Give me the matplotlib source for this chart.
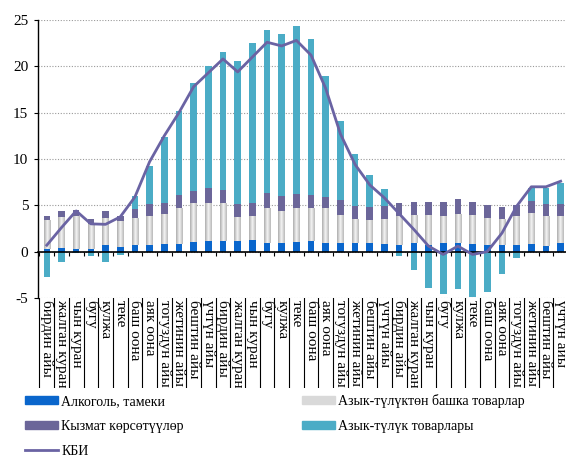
import matplotlib
matplotlib.use("Agg")
import matplotlib.pyplot as plt
import numpy as np
from matplotlib.colors import LinearSegmentedColormap
from matplotlib.patches import Patch
from matplotlib.lines import Line2D

plt.rcParams["font.family"] = ["Liberation Serif", "DejaVu Serif"]
plt.rcParams["axes.unicode_minus"] = False

# Kyrgyz month names, three years in a row
months = [
    "бирдин айы", "жалган куран", "чын куран", "бугу", "кулжа", "теке",
    "баш оона", "аяк оона", "тогуздун айы", "жетинин айы", "бештин айы", "үчтүн айы",
]
categories = months * 3

# contributions to the CPI, percentage points
alcohol = [0.32, 0.35, 0.32, 0.32, 0.68, 0.50, 0.68, 0.68, 0.82, 0.82, 1.00, 1.15,
           1.15, 1.20, 1.30, 0.97, 0.97, 1.00, 1.15, 0.97, 0.97, 0.97, 0.97, 0.80,
           0.75, 0.93, 0.72, 0.93, 0.93, 0.86, 0.72, 0.72, 0.72, 0.80, 0.65, 0.93]
nonfood = [3.08, 3.35, 3.58, 2.68, 2.92, 2.80, 2.92, 3.22, 3.23, 3.84, 4.20, 4.15,
           4.05, 2.50, 2.50, 3.69, 3.40, 3.66, 3.51, 3.69, 3.03, 2.53, 2.43, 2.70,
           3.05, 3.07, 3.28, 2.97, 3.17, 3.14, 2.88, 2.78, 3.08, 3.40, 3.25, 2.97]
services = [0.47, 0.67, 0.60, 0.50, 0.77, 0.55, 1.00, 1.20, 1.22, 1.44, 1.40, 1.60,
            1.50, 1.40, 1.47, 1.68, 1.63, 1.61, 1.44, 1.24, 1.60, 1.45, 1.44, 1.45,
            1.40, 1.35, 1.35, 1.45, 1.56, 1.35, 1.40, 1.30, 1.20, 1.30, 1.26, 1.26]
food = [-2.75, -1.15, -0.15, -0.50, -1.15, -0.40, 1.40, 4.15, 7.10, 9.10, 11.60, 13.10,
        14.90, 15.50, 17.20, 17.60, 17.50, 18.10, 16.90, 13.10, 8.55, 5.55, 3.40, 1.85,
        -0.45, -2.00, -3.90, -4.60, -4.00, -4.90, -4.30, -2.45, -0.70, 1.40, 1.75, 2.25]
cpi = [0.7, 2.6, 4.4, 3.0, 2.95, 3.75, 5.9, 9.7, 12.5, 15.0, 17.8, 19.3,
       20.8, 19.4, 21.0, 22.6, 22.2, 22.8, 21.2, 17.6, 12.7, 9.4, 7.2, 5.8,
       4.1, 2.4, 0.6, -0.3, 0.6, -0.3, 0.0, 2.0, 4.9, 7.0, 7.0, 7.6]

c_alc = "#0a66cc"
c_serv = "#6b6699"
c_food = "#4bacc6"
c_cpi = "#6a63a3"

x = np.arange(len(categories))
alc = np.array(alcohol)
nf = np.array(nonfood)
sv = np.array(services)
fd = np.array(food)
width = 0.45

fig = plt.figure(figsize=(5.66, 4.59), dpi=100)
x0 = 38 / 566
w = (568 - 38) / 566
ax = fig.add_axes([x0, 1 - 298 / 459, w, (298 - 20) / 459])

ax.bar(x, alc, width, color=c_alc, zorder=3)
gray_bars = ax.bar(x, nf, width, bottom=alc, color="#d4d4d4", zorder=3)
ax.bar(x, sv, width, bottom=alc + nf, color=c_serv, zorder=3)
food_bottom = np.where(fd > 0, alc + nf + sv, 0)
ax.bar(x, fd, width, bottom=food_bottom, color=c_food, zorder=3)

# silver shading on the non-food bars
silver = LinearSegmentedColormap.from_list("silver", ["#adadad", "#f4f4f4", "#b8b8b8"])
grad = np.linspace(0, 1, 64).reshape(1, -1)
for rect in gray_bars:
    bx, by = rect.get_x(), rect.get_y()
    im = ax.imshow(grad, extent=[bx, bx + rect.get_width(), by, by + rect.get_height()],
                   aspect="auto", cmap=silver, zorder=3.5)
    im.set_clip_path(rect)

ax.plot(x, cpi, color=c_cpi, lw=2.0, zorder=5)

ax.set_xlim(-0.6, 35.5)
ax.set_ylim(-5, 25)
ax.set_yticks([-5, 0, 5, 10, 15, 20, 25])
ax.yaxis.grid(True, linestyle=(0, (1, 1.5)), color="#9a9a9a", lw=0.8)
ax.set_axisbelow(True)
ax.tick_params(axis="y", direction="out", length=3, width=0.8, pad=4, labelsize=11)

for s in ["top", "right"]:
    ax.spines[s].set_visible(False)
ax.spines["left"].set_linewidth(1.0)
ax.spines["bottom"].set_position(("data", 0))
ax.spines["bottom"].set_linewidth(1.2)
ax.spines["bottom"].set_zorder(4)
ax.set_xticks(np.arange(-0.5, 36, 1))
ax.set_xticklabels([])
ax.tick_params(axis="x", direction="out", length=3, width=0.8)

# category labels below the plot, in boxed cells
lab = fig.add_axes([x0, 1 - 388 / 459, w, (388 - 298) / 459])
lab.set_xlim(ax.get_xlim())
lab.set_ylim(0, 1)
lab.axis("off")
for b in np.arange(-0.5, 36, 1):
    lab.axvline(b, color="black", lw=0.8)
for i, name in enumerate(categories):
    lab.text(i, 0.975, name, rotation=270, ha="center", va="top",
             fontsize=11, clip_on=True)

handles = [
    Patch(color=c_alc),
    Patch(color=c_serv),
    Line2D([], [], color=c_cpi, lw=2.0),
    Patch(color="#d9d9d9"),
    Patch(color=c_food),
]
labels = [
    "Алкоголь, тамеки",
    "Кызмат көрсөтүүлөр",
    "КБИ",
    "Азык-түлүктөн башка товарлар",
    "Азык-түлүк товарлары",
]
fig.legend(handles, labels, loc="upper left", bbox_to_anchor=(25 / 566, 1 - 394 / 459),
           ncol=2, frameon=False, fontsize=10, handlelength=2.4, handleheight=0.5,
           handletextpad=0.2, columnspacing=8.5, labelspacing=0.85,
           borderpad=0, borderaxespad=0)

fig.savefig("out.png", dpi=100)
